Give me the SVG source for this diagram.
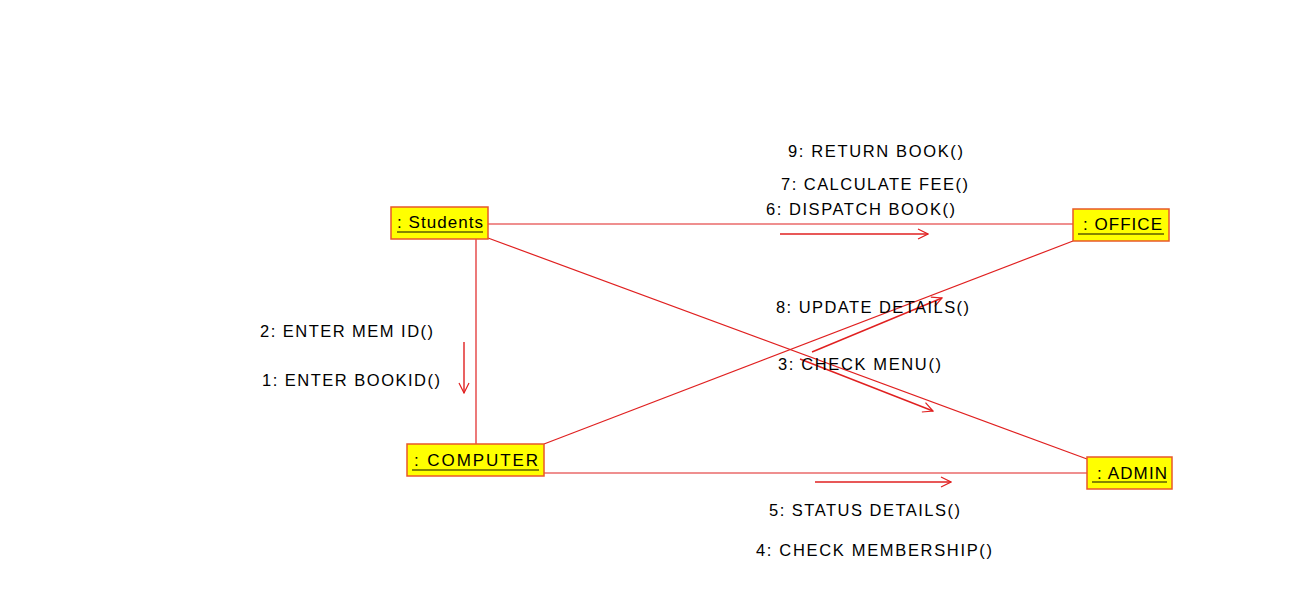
<svg xmlns="http://www.w3.org/2000/svg" width="1302" height="607" viewBox="0 0 1302 607">
<defs>
<marker id="ah" markerWidth="12" markerHeight="12" refX="11" refY="6" orient="auto" markerUnits="userSpaceOnUse">
<path d="M1,1 L11,6 L1,11" fill="none" stroke="#e02020" stroke-width="1.2"/>
</marker>
</defs>
<style>
.box{fill:#ffff00;stroke:#e8582a;stroke-width:1.5}
.nl{font-family:"Liberation Sans",Arial,sans-serif;font-size:17px;fill:#000}
.ul{stroke:#5c5c00;stroke-width:1.3}
.c{stroke:#e02020;stroke-width:1.2;fill:none}
.m{stroke:#e02020;stroke-width:1.4;fill:none;marker-end:url(#ah)}
.lb{font-family:"Liberation Sans",Arial,sans-serif;font-size:16.5px;fill:#000}
</style>
<rect width="1302" height="607" fill="#fff"/>
<g id="connectors">
<line class="c" x1="488" y1="224" x2="1073" y2="224"/>
<line class="c" x1="476" y1="239" x2="476" y2="444"/>
<line class="c" x1="488" y1="238" x2="1087" y2="459"/>
<line class="c" x1="544" y1="444" x2="1073" y2="241"/>
<line class="c" x1="544" y1="473" x2="1087" y2="473"/>
<line class="m" x1="780" y1="234" x2="928" y2="234"/>
<line class="m" x1="464" y1="342" x2="464" y2="393"/>
<line class="m" x1="815" y1="482" x2="951" y2="482"/>
<line class="m" x1="800" y1="359" x2="933" y2="411"/>
<line class="m" x1="812" y1="352" x2="942" y2="298"/>
</g>
<g id="students">
<rect class="box" x="391" y="207" width="97" height="32"/>
<text class="nl" x="397" y="228" textLength="86" lengthAdjust="spacing">: Students</text>
<line class="ul" x1="397" y1="232" x2="483" y2="232"/>
</g>
<g id="office">
<rect class="box" x="1073" y="209" width="96" height="32"/>
<text class="nl" x="1083" y="230" textLength="79" lengthAdjust="spacing">: OFFICE</text>
<line class="ul" x1="1078" y1="234" x2="1164" y2="234"/>
</g>
<g id="computer">
<rect class="box" x="407" y="444" width="137" height="32"/>
<text class="nl" x="414" y="466" textLength="124" lengthAdjust="spacing">: COMPUTER</text>
<line class="ul" x1="412" y1="470" x2="539" y2="470"/>
</g>
<g id="admin">
<rect class="box" x="1087" y="457" width="85" height="32"/>
<text class="nl" x="1097" y="479" textLength="70" lengthAdjust="spacing">: ADMIN</text>
<line class="ul" x1="1092" y1="482" x2="1167" y2="482"/>
</g>
<g id="labels">
<text class="lb" x="788" y="157" textLength="175" lengthAdjust="spacing">9: RETURN BOOK()</text>
<text class="lb" x="781" y="190" textLength="187" lengthAdjust="spacing">7: CALCULATE FEE()</text>
<text class="lb" x="766" y="215" textLength="189" lengthAdjust="spacing">6: DISPATCH BOOK()</text>
<text class="lb" x="776" y="313" textLength="193" lengthAdjust="spacing">8: UPDATE DETAILS()</text>
<text class="lb" x="778" y="370" textLength="163" lengthAdjust="spacing">3: CHECK MENU()</text>
<text class="lb" x="260" y="337" textLength="173" lengthAdjust="spacing">2: ENTER MEM ID()</text>
<text class="lb" x="262" y="386" textLength="178" lengthAdjust="spacing">1: ENTER BOOKID()</text>
<text class="lb" x="769" y="516" textLength="191" lengthAdjust="spacing">5: STATUS DETAILS()</text>
<text class="lb" x="756" y="556" textLength="236" lengthAdjust="spacing">4: CHECK MEMBERSHIP()</text>
</g>
</svg>
